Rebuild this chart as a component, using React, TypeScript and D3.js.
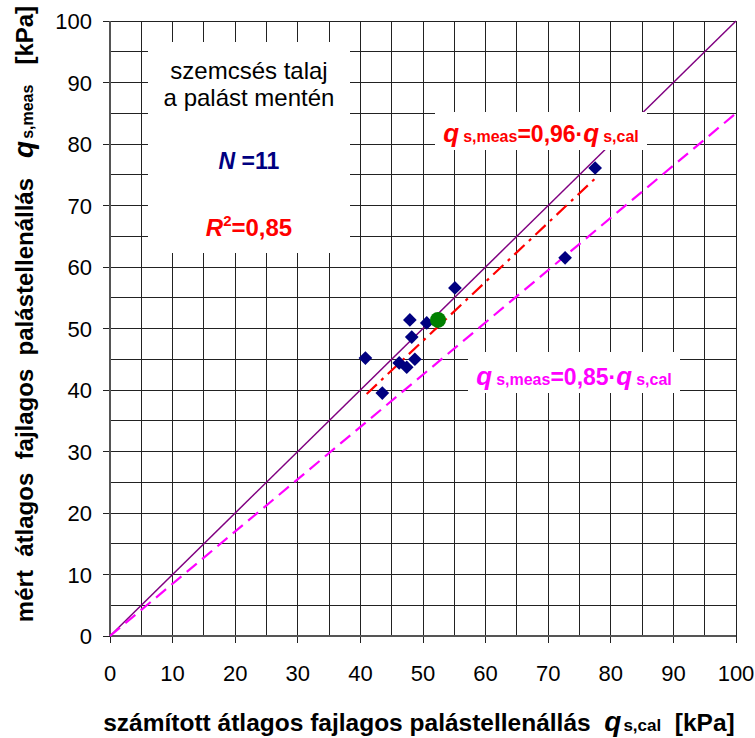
import React from "react";
import * as d3 from "d3";

const calc = [40.8, 43.5, 47.9, 48.2, 46.2, 47.4, 48.7, 50.6, 55.1, 72.7, 77.5];
const meas = [45.2, 39.5, 51.4, 48.6, 44.4, 43.7, 45.0, 50.9, 56.6, 61.5, 76.1];
const meanPoint = [52.4, 51.4];
const ticks = [0, 10, 20, 30, 40, 50, 60, 70, 80, 90, 100];
const gridVals = d3.range(0, 101, 5);
const fit96 = [0.96, 41, 77.5];
const fit85 = [0.85, 0, 100];

export default function App() {
  const W = 755, H = 738;
  const x = d3.scaleLinear().domain([0, 100]).range([110, 736]);
  const y = d3.scaleLinear().domain([0, 100]).range([636, 21]);
  const diamond = d3.symbol().type(d3.symbolDiamond2 ?? d3.symbolSquare).size(120)();
  const line = d3.line<number[]>().x(d => x(d[0])).y(d => y(d[1]));
  const font = "Arial, 'Liberation Sans', sans-serif";

  return (
    <svg width={W} height={H} style={{ position: "absolute", left: 0, top: 0, background: "#fff" }} fontFamily={font}>
      <rect width={W} height={H} fill="#fff" />
      <g shapeRendering="crispEdges">
        {gridVals.map(v => (
          <line key={"v" + v} x1={x(v)} x2={x(v)} y1={y(0)} y2={y(100)} stroke="#222" strokeWidth={1} />
        ))}
        {gridVals.map(v => (
          <line key={"h" + v} x1={x(0)} x2={x(100)} y1={y(v)} y2={y(v)} stroke="#222" strokeWidth={1} />
        ))}
        {ticks.map(v => (
          <line key={"tx" + v} x1={x(v)} x2={x(v)} y1={y(0)} y2={y(0) + 7} stroke="#222" />
        ))}
        {ticks.map(v => (
          <line key={"ty" + v} x1={x(0) - 7} x2={x(0)} y1={y(v)} y2={y(v)} stroke="#222" />
        ))}
        <line x1={x(0)} x2={x(0)} y1={y(0)} y2={y(100)} stroke="#555" strokeWidth={1.5} />
        <line x1={x(0)} x2={x(100)} y1={y(0)} y2={y(0)} stroke="#555" strokeWidth={1.5} />
      </g>
      {ticks.map(v => (
        <text key={"lx" + v} x={x(v)} y={681} textAnchor="middle" fontSize={22} fill="#000">{v}</text>
      ))}
      {ticks.map(v => (
        <text key={"ly" + v} x={92} y={y(v) + 8} textAnchor="end" fontSize={22} fill="#000">{v}</text>
      ))}
      {/* lines */}
      <path d={line([[0, 0], [100, 100]])!} stroke="#800080" strokeWidth={1.5} fill="none" />
      <path d={line([[fit85[1], fit85[0] * fit85[1]], [fit85[2], fit85[0] * fit85[2]]])!} stroke="#FF00FF" strokeWidth={2.2} strokeDasharray="13 7" fill="none" />
      <path d={line([[fit96[1], fit96[0] * fit96[1]], [fit96[2], fit96[0] * fit96[2]]])!} stroke="#FF0000" strokeWidth={2.2} strokeDasharray="14 6 3 6" fill="none" />
      {/* points */}
      {calc.map((c, i) => (
        <path key={"p" + i} d={diamond} transform={`translate(${x(c)},${y(meas[i])})`} fill="#000080" />
      ))}
      <circle cx={x(meanPoint[0])} cy={y(meanPoint[1])} r={8} fill="#008000" />
      {/* annotation box */}
      <rect x={148} y={42} width={202} height={211} fill="#fff" />
      <text x={249} y={79} textAnchor="middle" fontSize={24} fill="#000">szemcsés talaj</text>
      <text x={249} y={106} textAnchor="middle" fontSize={24} fill="#000">a palást mentén</text>
      <text x={249} y={169} textAnchor="middle" fontSize={23} fontWeight="bold" fill="#000080">
        <tspan fontStyle="italic">N</tspan> =11
      </text>
      <text x={249} y={236} textAnchor="middle" fontSize={24} fontWeight="bold" fill="#FF0000">
        <tspan fontStyle="italic">R</tspan><tspan fontSize={15} dy={-10}>2</tspan><tspan dy={10}>=0,85</tspan>
      </text>
      {/* red label */}
      <rect x={435} y={112} width={212} height={38} fill="#fff" />
      <text x={541} y={142} textAnchor="middle" fontWeight="bold" fill="#FF0000" fontSize={23}>
        <tspan fontStyle="italic" fontSize={26}>q</tspan>
        <tspan fontSize={16} dx={4}>s,meas</tspan>
        <tspan>=0,96·</tspan>
        <tspan fontStyle="italic" fontSize={26}>q</tspan>
        <tspan fontSize={16} dx={4}>s,cal</tspan>
      </text>
      {/* magenta label */}
      <rect x={468} y={352} width={212} height={41} fill="#fff" />
      <text x={574} y={385} textAnchor="middle" fontWeight="bold" fill="#FF00FF" fontSize={23}>
        <tspan fontStyle="italic" fontSize={26}>q</tspan>
        <tspan fontSize={16} dx={4}>s,meas</tspan>
        <tspan>=0,85·</tspan>
        <tspan fontStyle="italic" fontSize={26}>q</tspan>
        <tspan fontSize={16} dx={4}>s,cal</tspan>
      </text>
      {/* x title */}
      <text x={419} y={731} textAnchor="middle" fontWeight="bold" fontSize={24.5} fill="#000" style={{ whiteSpace: "pre" }}>
        <tspan>számított átlagos fajlagos palástellenállás  </tspan>
        <tspan fontStyle="italic" fontSize={28}>q</tspan>
        <tspan fontSize={17} dx={2}>s,cal</tspan>
        <tspan>  [kPa]</tspan>
      </text>
      {/* y title */}
      <text transform="translate(33,314) rotate(-90)" textAnchor="middle" fontWeight="bold" fontSize={24} fill="#000" style={{ whiteSpace: "pre" }}>
        <tspan>mért  átlagos  fajlagos  palástellenállás   </tspan>
        <tspan fontStyle="italic" fontSize={28}>q</tspan>
        <tspan fontSize={16} dx={2}>s,meas</tspan>
        <tspan>   [kPa]</tspan>
      </text>
    </svg>
  );
}
